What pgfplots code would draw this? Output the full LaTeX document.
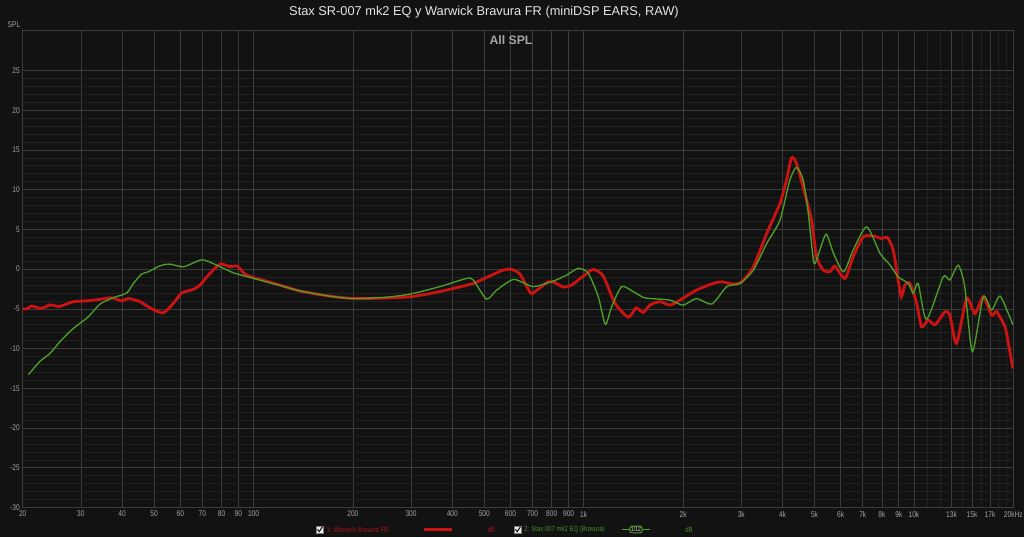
\documentclass[border=0pt]{standalone}
\usepackage{pgfplots}
\pgfplotsset{compat=1.18}
\usepackage{fontspec}
\setmainfont{Liberation Sans}
\newfontfamily\narrow[FakeStretch=0.8]{Liberation Sans}

\definecolor{bg}{RGB}{18,18,18}
\definecolor{gridmin}{RGB}{34,34,34}
\definecolor{gridmaj}{RGB}{60,60,60}
\definecolor{griddec}{RGB}{115,115,115}
\definecolor{ticktxt}{RGB}{165,165,165}
\definecolor{redc}{RGB}{205,18,18}
\definecolor{greenc}{RGB}{76,160,40}
\definecolor{redtxt}{RGB}{165,22,22}
\definecolor{greentxt}{RGB}{72,140,40}

% measured curves, frequency in Hz, level in dB
\pgfplotstableread{
f      db
20     -5.0
20.6   -5.0
21.3   -4.65
22.8   -4.95
24.2   -4.5
25.8   -4.7
28.5   -4.1
31.3   -4.0
34.3   -3.8
37.2   -3.6
39.9   -4.0
41.8   -3.7
45.3   -4.1
49.2   -5.0
53.3   -5.5
57.2   -4.3
60.6   -3.0
65.7   -2.55
68.9   -2.0
73.0   -0.75
79.2   0.63
84.9   0.3
89.3   0.38
94.2   -0.63
100    -1.05
120    -2.0
138    -2.75
170    -3.4
200    -3.69
250    -3.65
298    -3.48
350    -3.0
403    -2.43
463    -1.8
508    -1.05
570    -0.13
605    -0.04
641    -0.63
690    -3.0
711    -2.85
780    -1.6
818    -1.7
867    -2.25
920    -2.0
997    -0.88
1069   -0.04
1146   -0.88
1244   -4.3
1365   -6.05
1440   -4.9
1514   -5.45
1589   -4.5
1703   -4.1
1825   -4.53
1955   -3.9
2196   -2.64
2467   -1.8
2617   -1.6
2838   -1.89
3011   -1.6
3264   0.3
3583   4.49
3929   8.26
4114   11.2
4258   14.0
4410   13.3
4674   9.5
4898   6.16
5072   1.55
5313   -0.13
5568   -0.34
5768   0.38
6184   -1.17
6547   1.55
7024   4.06
7534   4.15
7986   3.86
8304   3.99
8655   2.39
8957   -1.38
9164   -3.48
9390   -2.0
9726   -1.8
10193  -4.3
10549  -7.26
11050  -6.4
11590  -7.0
12415  -5.37
12846  -5.8
13460  -9.35
14440  -3.7
15305  -5.6
16226  -3.48
17190  -5.8
17800  -5.37
18880  -7.26
19330  -9.35
19930  -12.5
}\warwick

\pgfplotstableread{
f      db
20.8   -13.3
22.5   -11.65
24.2   -10.6
25.9   -9.15
28.1   -7.67
29.8   -6.83
31.6   -6.0
34.3   -4.4
37.6   -3.6
41.3   -3.0
43.3   -1.8
45.8   -0.63
48.0   -0.34
52.1   0.42
55.8   0.63
61.3   0.3
68.9   1.13
72.1   1.05
79.2   0.3
86.9   -0.46
100    -1.17
120    -2.05
138    -2.73
170    -3.4
200    -3.7
250    -3.55
298    -3.14
367    -2.2
442    -1.17
463    -1.38
508    -3.77
545    -2.64
614    -1.3
703    -2.2
809    -1.5
888    -0.75
964    0.1
1033   -0.54
1107   -3.48
1163   -6.95
1216   -4.7
1303   -2.2
1414   -2.85
1514   -3.56
1589   -3.7
1825   -3.9
2000   -4.53
2196   -3.7
2443   -4.4
2712   -2.2
2973   -1.8
3264   -0.13
3583   3.23
3929   6.16
4210   11.2
4410   12.8
4621   11.2
4788   7.0
4977   0.8
5145   1.97
5424   4.4
5710   1.97
6125   -0.34
6547   2.39
7195   5.32
7900   1.97
8470   0.5
8957   -0.97
9615   -1.8
9960   -3.06
10300  -1.8
10920  -6.33
12270  -0.97
12846  -1.38
13620  0.5
14250  -2.2
15030  -10.4
16226  -3.48
17190  -5.16
18250  -3.4
19930  -7.0
}\stax

\begin{document}
\begin{tikzpicture}[x=0.75pt,y=-0.75pt]
\fill[bg] (0,0) rectangle (1024,537);
\useasboundingbox (0,0) rectangle (1024,537);

\begin{axis}[
    at={(17.025pt,-380.625pt)}, anchor=south west,
    scale only axis,
    width=742.95pt, height=357.6pt,
    xmode=log,
    xmin=20, xmax=20000,
    ymin=-30, ymax=30,
    axis line style={gridmaj},
    tick style={draw=none},
    xtick={20,30,40,50,60,70,80,90,200,300,400,500,600,700,800,900,2000,3000,4000,5000,6000,7000,8000,9000,13000,15000,17000,20000},
    xticklabels={20,30,40,50,60,70,80,90,200,300,400,500,600,700,800,900,2k,3k,4k,5k,6k,7k,8k,9k,13k,15k,17k,20kHz},
    minor xtick={11000,12000,14000,16000,18000,19000},
    extra x ticks={100,1000,10000},
    extra x tick labels={100,1k,10k},
    extra x tick style={grid style={griddec, line width=0.6pt}},
    ytick={-30,-25,...,25},
    yticklabels={-30,-25,-20,-15,-10,-5,0,5,10,15,20,25},
    minor y tick num=4,
    grid=both,
    major grid style={gridmaj, line width=0.5pt},
    minor grid style={gridmin, line width=0.5pt},
    ticklabel style={font=\narrow\fontsize{6.2}{7}\selectfont, text=ticktxt},
    xticklabel style={anchor=north, inner sep=1pt, yshift=-1.5pt},
    yticklabel style={anchor=east, inner sep=1pt, xshift=-1pt},
]
\addplot[redc, line width=2.1pt, smooth, tension=0.4] table[x=f, y=db] {\warwick};
\addplot[greenc, line width=1pt, smooth, tension=0.4] table[x=f, y=db] {\stax};
\end{axis}

\node[font=\fontsize{9.6}{11}\selectfont, text=white!90!black] at (484,12) {Stax SR-007 mk2 EQ y Warwick Bravura FR (miniDSP EARS, RAW)};
\node[font=\bfseries\fontsize{9.2}{10}\selectfont, text=ticktxt] at (511,40) {All SPL};
\node[font=\narrow\fontsize{6.2}{7}\selectfont, text=ticktxt, anchor=east, inner sep=0pt] at (20.5,25) {SPL};

% legend strip
\draw[fill=white!85!gray, draw=gray] (316,526) rectangle (323,533);
\draw[black, line width=0.7pt] (317.5,529.3) -- (319.2,531.6) -- (322.4,526.8);
\node[font=\narrow\fontsize{5.6}{6.5}\selectfont, text=redtxt, anchor=west, inner sep=0pt] at (326.5,529.5) {1: Warwick Bravura FR};
\draw[redc, line width=2pt] (424,529.5) -- (452,529.5);
\node[font=\narrow\fontsize{5.6}{6.5}\selectfont, text=redtxt, anchor=west, inner sep=0pt] at (487.5,529.5) {dB};

\draw[fill=white!85!gray, draw=gray] (514,526) rectangle (521,533);
\draw[black, line width=0.7pt] (515.5,529.3) -- (517.2,531.6) -- (520.4,526.8);
\node[font=\narrow\fontsize{5.6}{6.5}\selectfont, text=greentxt, anchor=west, inner sep=0pt] at (524,529.5) {2: Stax 007 mk2 EQ (Bravura)};
\draw[greenc, line width=0.9pt] (622,529.5) -- (650,529.5);
\node[draw=greenc, fill=bg, rounded corners=1.5pt, line width=0.7pt, inner sep=0.8pt, font=\narrow\fontsize{4.8}{5}\selectfont, text=white!85!black] at (636,529.5) {1/12};
\node[font=\narrow\fontsize{5.6}{6.5}\selectfont, text=greentxt, anchor=west, inner sep=0pt] at (685,529.5) {dB};
\end{tikzpicture}
\end{document}
